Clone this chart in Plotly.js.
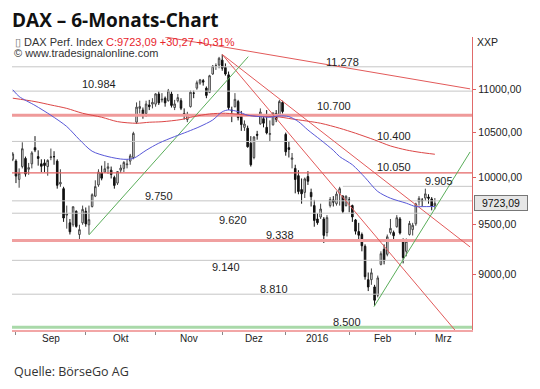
<!DOCTYPE html>
<html><head><meta charset="utf-8">
<script src="https://cdn.plot.ly/plotly-3.0.1.min.js"></script>
<style>html,body{margin:0;padding:0;background:#fff}#chart{width:540px;height:389px}</style>
</head><body><div id="chart"></div>
<script>
// ---- DATA (DAX daily candles, 31.08.2015 - 09.03.2016) ----
const opens = [10200,10180,9980,10120,10210,10090,10150,10330,10230,10150,10160,10120,10220,10230,10180,9930,9880,9600,9520,9500,9640,9400,9520,9640,9500,9690,9800,9920,10050,10060,10100,10080,10000,9940,10080,10100,10140,10180,10220,10620,10780,10760,10720,10820,10830,10830,10950,10880,10900,10870,10950,10790,10870,10870,10720,10650,10800,10960,11020,11080,11110,11020,10970,11190,11290,11300,11360,11270,11180,10760,10800,10860,10700,10560,10550,10380,10220,10480,10600,10660,10560,10480,10590,10720,10700,10850,10480,10330,10200,10100,10020,9870,9840,10010,9840,9700,9560,9580,9560,9420,9700,9760,9720,9830,9800,9700,9760,9700,9550,9430,9400,9280,8950,8950,8880,8800,9100,9250,9200,9420,9420,9480,9560,9350,9230,9400,9450,9510,9740,9760,9780,9790,9770,9700];
const highs = [10280,10200,10100,10390,10230,10160,10290,10460,10300,10200,10200,10200,10320,10290,10200,10090,9900,9700,9560,9690,9650,9500,9700,9680,9700,9830,9970,10090,10130,10180,10160,10120,10020,10070,10140,10180,10200,10260,10510,10850,10870,10790,10870,10880,10900,10960,10980,10960,10920,11010,10980,10880,10950,10900,10780,10740,10990,10990,11110,11130,11130,11040,11180,11300,11320,11400,11430,11320,11220,10800,10960,10880,10750,10640,10580,10460,10460,10520,10780,10690,10760,10640,10730,10760,10880,10870,10500,10400,10270,10140,10080,9990,10000,10070,9880,9760,9620,9720,9580,9600,9790,9800,9850,9900,9810,9810,9790,9710,9560,9520,9420,9300,9020,9060,8900,8990,9230,9300,9400,9560,9440,9600,9580,9360,9360,9540,9520,9730,9800,9780,9880,9820,9790,9780];
const lows = [10180,9940,9890,10100,10010,10030,10100,10280,10130,10060,10060,10020,10190,10140,9880,9900,9530,9460,9400,9480,9470,9338,9500,9480,9400,9680,9790,9900,9970,10050,10040,9990,9880,9920,10050,10060,10100,10140,10200,10600,10720,10660,10680,10760,10780,10800,10820,10850,10800,10860,10790,10760,10850,10760,10650,10620,10790,10900,11000,11060,11050,10900,10960,11180,11240,11260,11230,11170,10760,10620,10790,10640,10520,10520,10330,10120,10200,10420,10590,10560,10480,10400,10580,10620,10690,10720,10240,10220,10100,9830,9820,9720,9780,9920,9690,9480,9500,9560,9314,9380,9680,9690,9700,9700,9620,9690,9630,9530,9400,9330,9230,8950,8840,8900,8699,8780,9090,9100,9180,9400,9330,9470,9400,9110,9180,9390,9390,9490,9700,9690,9750,9720,9650,9660];
const closes = [10259,10016,10048,10318,10038,10108,10271,10303,10210,10123,10131,10188,10227,10229,9916,9948,9570,9612,9428,9688,9483,9450,9660,9509,9553,9815,9902,10060,9993,10096,10117,10033,9915,10065,10104,10165,10147,10238,10491,10795,10801,10692,10831,10800,10850,10951,10845,10887,10845,10988,10815,10832,10907,10782,10708,10713,10971,10959,11085,11119,11092,10933,11169,11285,11293,11382,11261,11190,10789,10752,10886,10673,10592,10598,10340,10140,10450,10470,10738,10608,10497,10488,10727,10653,10860,10743,10283,10310,10214,9979,9849,9825,9985,9960,9794,9545,9521,9664,9391,9574,9764,9736,9822,9880,9639,9798,9757,9581,9434,9393,9286,8979,8879,9017,8752,8967,9206,9135,9377,9463,9388,9573,9416,9167,9331,9513,9495,9717,9776,9751,9824,9778,9692,9723.09];

// moving averages (blue = short, red = long), read at sample days
const blueIdx = [0,2,7,12,17,21,25,30,35,38,42,46,51,55,59,63,66,68,71,74,78,81,84,87,90,93,97,101,103,107,111,115,119,124,127,129,133];
const blueVal = [11000,10920,10815,10700,10570,10420,10290,10230,10200,10210,10300,10380,10455,10510,10570,10645,10740,10762,10742,10700,10684,10677,10692,10684,10626,10530,10417,10300,10230,10140,10000,9850,9778,9725,9689,9689,9690];
const redIdx = [0,7,12,17,22,28,33,39,43,47,53,57,62,67,73,78,83,88,97,103,108,114,119,124,128,133];
const redVal = [10900,10860,10820,10780,10723,10677,10626,10607,10619,10625,10650,10684,10715,10723,10704,10684,10684,10657,10607,10550,10493,10417,10349,10304,10279,10256];

// horizontal levels
const levelValues = [11278,10984,10700,10400,10050,9905,9750,9620,9338,9140,8810,8500];
const levelLabels = ['11.278','10.984','10.700','10.400','10.050','9.905','9.750','9.620','9.338','9.140','8.810','8.500'];

// trend lines: [startDay, endDay], [startValue, endValue]
const trendDays = {upperRed:[48.0,144.1], peakRedA:[66,144.1], peakRedB:[66,139.3], greenOct:[24.0,74.2], greenFeb:[113.8,144.1]};
const trendVals = {upperRed:[11649,11011], peakRedA:[11430,9274], peakRedB:[11430,8474], greenOct:[9396,11403], greenFeb:[8691,10282]};

// axis
const monthStart = [1,23,45,66,86,106,127];
const monthLabels = ['Sep','Okt','Nov','Dez','2016','Feb','Mrz'];
const yTickVals = [9000,9500,10000,10500,11000];
const yTickText = ['9000,00','9500,00','10000,00','10500,00','11000,00'];
const lastPrice = 9723.09;

// ---- STYLE / POSITIONS ----
const X0 = -0.25, X1 = 144.7;
const YLO = 8474, YHI = 11649;
const ML = 12, MR = 68, MT = 37, MB = 59, W = 540, H = 389;
const PW = W - ML - MR, PH = H - MT - MB;
const px = v => (v - ML) / PW;
const py = v => (H - MB - v) / PH;
const FONT = 'Liberation Sans, Arial, sans-serif';

const levelStyle = [
  {c:'#c6c6c6',w:1},{c:'#c6c6c6',w:1},{c:'#ef9a9a',w:3},{c:'#c6c6c6',w:1},{c:'#e46464',w:1.3},
  {c:'#c6c6c6',w:1},{c:'#c6c6c6',w:1},{c:'#c6c6c6',w:1},{c:'#f0a0a0',w:3},{c:'#c6c6c6',w:1},
  {c:'#c6c6c6',w:1},{c:'#a9d9a9',w:3}];
const levelFrom = [X0,X0,X0,X0,X0,104,X0,X0,X0,X0,X0,X0];
const labelDay = [104.0,27.3,101.2,120.1,120.1,134.3,46.2,69.3,84.2,67.2,82.3,105.2];
const labelShift = [5,7.5,9,5,6.3,5,5,-7,6,-7,5,5.5];

const traces = [];
levelValues.forEach((v,i) => {
  traces.push({type:'scatter', mode:'lines', x:[levelFrom[i], X1], y:[v, v],
    line:{color:levelStyle[i].c, width:levelStyle[i].w}, hoverinfo:'skip', showlegend:false});
});
const trendStyle = {upperRed:'#e25a5a', peakRedA:'#e25a5a', peakRedB:'#e25a5a', greenOct:'#5aae5a', greenFeb:'#5aae5a'};
Object.keys(trendDays).forEach(k => {
  traces.push({type:'scatter', mode:'lines', x:trendDays[k], y:trendVals[k],
    line:{color:trendStyle[k], width:1}, hoverinfo:'skip', showlegend:false, cliponaxis:true});
});
traces.push({type:'scatter', mode:'lines', x:redIdx, y:redVal, line:{color:'#dc4646', width:1, shape:'spline', smoothing:0.8}, hoverinfo:'skip', showlegend:false});
traces.push({type:'scatter', mode:'lines', x:blueIdx, y:blueVal, line:{color:'#5858d8', width:1, shape:'spline', smoothing:0.8}, hoverinfo:'skip', showlegend:false});
traces.push({type:'candlestick', x:closes.map((_, i) => i), open:opens, high:highs, low:lows, close:closes,
  increasing:{line:{color:'#444', width:1}, fillcolor:'#ffffff'},
  decreasing:{line:{color:'#111', width:1}, fillcolor:'#111'},
  whiskerwidth:0, hoverinfo:'skip', showlegend:false});

const annotations = [];
levelLabels.forEach((t,i) => {
  annotations.push({xref:'x', yref:'y', x:labelDay[i], y:Math.log10(levelValues[i]), yshift:labelShift[i],
    text:t, showarrow:false, xanchor:'center', yanchor:'middle', font:{family:FONT, size:11, color:'#1e1e1e'}});
});
monthLabels.forEach((t,i) => {
  const a = monthStart[i], b = i + 1 < monthStart.length ? monthStart[i+1] : X1;
  annotations.push({xref:'x', yref:'paper', x:(a+b)/2, y:py(338.5), text:t, showarrow:false,
    xanchor:'center', yanchor:'middle', font:{family:FONT, size:10, color:'#222'}});
});
annotations.push({xref:'paper', yref:'paper', x:px(10), y:py(20), xanchor:'left', yanchor:'middle',
  text:'<b>DAX – 6-Monats-Chart</b>', showarrow:false, font:{family:'Open Sans, sans-serif', size:19, color:'#111'}});
annotations.push({xref:'paper', yref:'paper', x:px(13), y:py(41.5), xanchor:'left', yanchor:'middle',
  text:'<span style="color:#777">▯</span> DAX Perf. Index <span style="color:#e8242c">C:9723,09 +30,27 +0,31%</span>',
  showarrow:false, font:{family:FONT, size:11, color:'#333'}});
annotations.push({xref:'paper', yref:'paper', x:px(12), y:py(53.5), xanchor:'left', yanchor:'middle',
  text:'© www.tradesignalonline.com', showarrow:false, font:{family:FONT, size:11, color:'#333'}});
annotations.push({xref:'paper', yref:'paper', x:px(475), y:py(41.5), xanchor:'left', yanchor:'middle',
  text:'XXP', showarrow:false, font:{family:FONT, size:10.5, color:'#222'}});
annotations.push({xref:'paper', yref:'y', x:px(474), y:Math.log10(lastPrice), xanchor:'left', yanchor:'middle',
  text:'9723,09', showarrow:false, width:50, bgcolor:'#e6e6e6', bordercolor:'#777', borderwidth:1, borderpad:1,
  font:{family:FONT, size:10.5, color:'#111'}});
annotations.push({xref:'paper', yref:'paper', x:px(12), y:py(371), xanchor:'left', yanchor:'middle',
  text:'Quelle: BörseGo AG', showarrow:false, font:{family:'Open Sans, sans-serif', size:12.5, color:'#333'}});

const layout = {
  width:W, height:H, margin:{l:ML, r:MR, t:MT, b:MB, pad:0},
  paper_bgcolor:'#fff', plot_bgcolor:'#fff', showlegend:false,
  xaxis:{range:[X0, X1], tickmode:'array', tickvals:monthStart, ticktext:monthStart.map(() => ''),
    ticks:'outside', ticklen:3, tickcolor:'#888', showgrid:false, zeroline:false,
    showline:true, linecolor:'#f2a6a6', linewidth:1.5, rangeslider:{visible:false}, fixedrange:true},
  yaxis:{type:'log', range:[Math.log10(YLO), Math.log10(YHI)], side:'right', tickmode:'array',
    tickvals:yTickVals, ticktext:yTickText, ticks:'outside', ticklen:3, tickcolor:'#e06060',
    showgrid:false, zeroline:false, showline:true, linecolor:'#e06a6a', linewidth:1.2,
    tickfont:{family:FONT, size:10.5, color:'#222'}, fixedrange:true},
  annotations: annotations
};
Plotly.newPlot('chart', traces, layout, {staticPlot:true, displayModeBar:false});
</script></body></html>
